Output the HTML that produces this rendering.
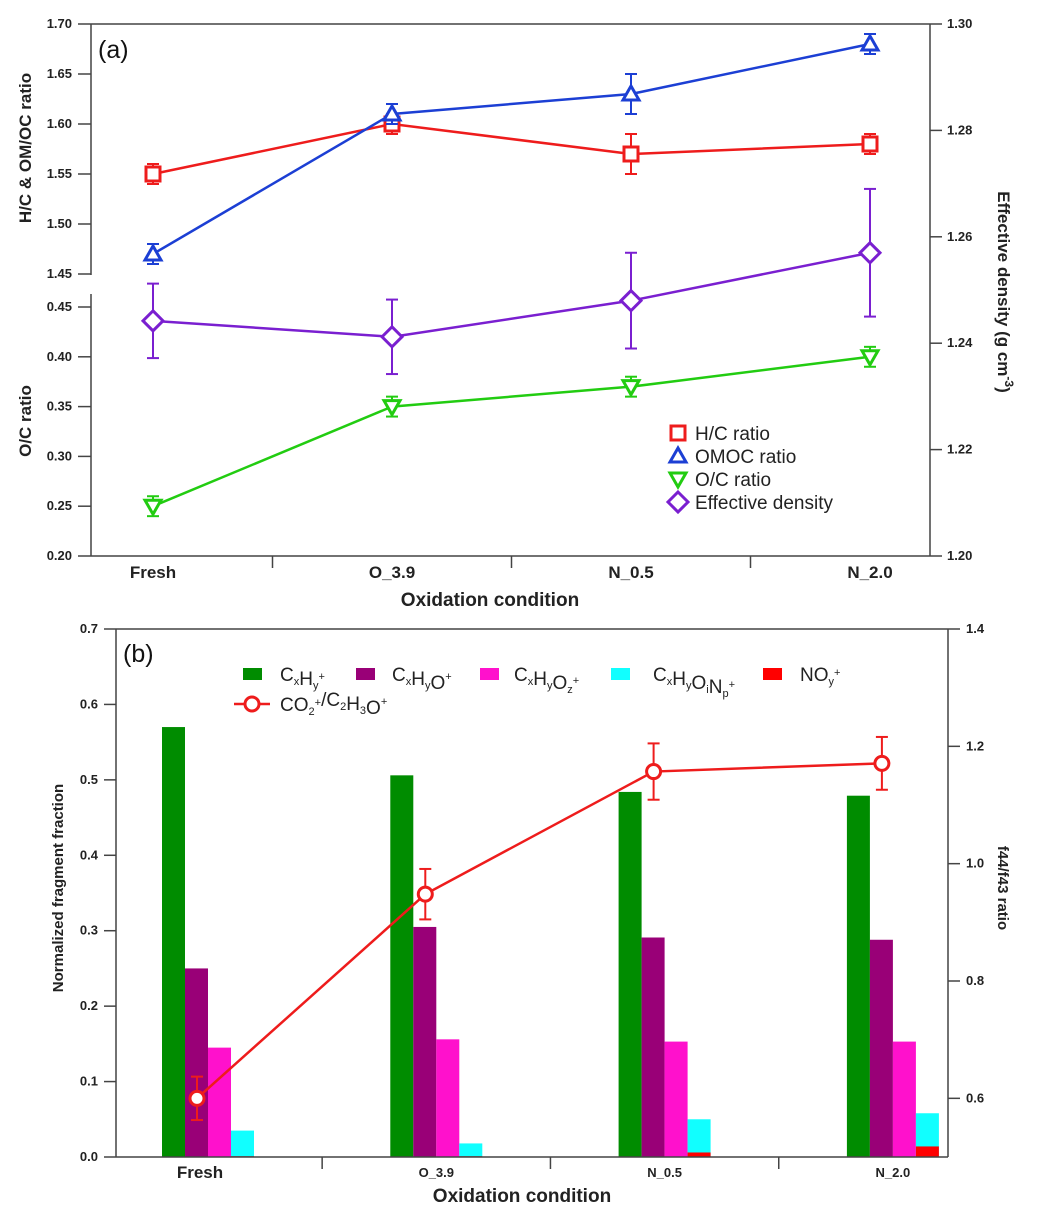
<!DOCTYPE html>
<html><head><meta charset="utf-8"><style>
body{margin:0;background:#fff;}
svg{display:block;font-family:"Liberation Sans",Arial,sans-serif;}
.tk{font-size:13px;font-weight:bold;fill:#222;}
</style></head><body>
<svg id="chart" width="1052" height="1224" viewBox="0 0 1052 1224" xmlns="http://www.w3.org/2000/svg"></svg>
<script>
// ---------- Panel (a) data ----------
const catsA = ["Fresh","O_3.9","N_0.5","N_2.0"];
const hcVals = [1.55,1.60,1.57,1.58];
const hcErr = [0.01,0.01,0.02,0.01];
const omocVals = [1.47,1.61,1.63,1.68];
const omocErr = [0.01,0.01,0.02,0.01];
const ocVals = [0.25,0.35,0.37,0.40];
const ocErr = [0.01,0.01,0.01,0.01];
const densVals = [1.2442,1.2412,1.2480,1.2570];
const densErr = [0.007,0.007,0.009,0.012];
const upperTicks = [1.45,1.50,1.55,1.60,1.65,1.70];
const lowerTicks = [0.20,0.25,0.30,0.35,0.40,0.45];
const densTicks = [1.20,1.22,1.24,1.26,1.28,1.30];
// ---------- Panel (b) data ----------
const catsB = ["Fresh","O_3.9","N_0.5","N_2.0"];
const cxhy = [0.570,0.506,0.484,0.479];
const cxhyo = [0.250,0.305,0.291,0.288];
const cxhyoz = [0.145,0.156,0.153,0.153];
const cxhyoin = [0.035,0.018,0.050,0.058];
const noy = [0.001,0.001,0.006,0.014];
const ratioVals = [0.600,0.948,1.157,1.171];
const ratioErr = [0.037,0.043,0.048,0.045];
const leftTicksB = [0.0,0.1,0.2,0.3,0.4,0.5,0.6,0.7];
const rightTicksB = [0.6,0.8,1.0,1.2,1.4];

const svg = document.getElementById('chart');
const NS = "http://www.w3.org/2000/svg";
function el(tag, attrs, parent){
  const e = document.createElementNS(NS, tag);
  for (const k in attrs) e.setAttribute(k, attrs[k]);
  (parent||svg).appendChild(e);
  return e;
}
function txt(s, x, y, attrs, parent){
  const t = el('text', Object.assign({x:x,y:y}, attrs||{}), parent);
  t.innerHTML = s;
  return t;
}

// ===== Panel (a) =====
const gA = el('g', {});


const aL=91, aR=930, aT=24, aB=556;
const xA = i => 153 + i*239;
const yUp = v => 24 + (1.70 - v) * (250/0.25);
const yLo = v => 307 + (0.45 - v) * (249/0.25);
const yD = v => 556 - (v - 1.20) * (532/0.10);

el('line',{x1:aL,y1:aT,x2:aR,y2:aT,stroke:'#444','stroke-width':1.5},gA);
el('line',{x1:aL,y1:aB,x2:aR,y2:aB,stroke:'#444','stroke-width':1.5},gA);
el('line',{x1:aL,y1:aT,x2:aL,y2:275,stroke:'#444','stroke-width':1.5},gA);
el('line',{x1:aL,y1:294,x2:aL,y2:aB,stroke:'#444','stroke-width':1.5},gA);
el('line',{x1:aR,y1:aT,x2:aR,y2:aB,stroke:'#444','stroke-width':1.5},gA);
upperTicks.forEach(v=>{
  el('line',{x1:78,y1:yUp(v),x2:aL,y2:yUp(v),stroke:'#444','stroke-width':1.5},gA);
  const t = txt(v.toFixed(2),72,yUp(v)+4,{'text-anchor':'end','class':'tk'},gA);
  
  
});
lowerTicks.forEach(v=>{
  el('line',{x1:78,y1:yLo(v),x2:aL,y2:yLo(v),stroke:'#444','stroke-width':1.5},gA);
  const t = txt(v.toFixed(2),72,yLo(v)+4,{'text-anchor':'end','class':'tk'},gA);
  
  
});
densTicks.forEach(v=>{
  el('line',{x1:aR,y1:yD(v),x2:aR+12,y2:yD(v),stroke:'#444','stroke-width':1.5},gA);
  const t = txt(v.toFixed(2),947,yD(v)+4,{'class':'tk'},gA);
  
  
});
[0,1,2].forEach(i=>{
  const x = (xA(i)+xA(i+1))/2;
  el('line',{x1:x,y1:aB,x2:x,y2:aB+12,stroke:'#444','stroke-width':1.5},gA);
});
catsA.forEach((c,i)=>{
  const t = txt(c,xA(i),578,{'text-anchor':'middle','font-size':'17','font-weight':'bold',fill:'#222'},gA);
  
  
});
let t1 = txt('Oxidation condition',490,606,{'text-anchor':'middle','font-size':'19','font-weight':'bold',fill:'#222'},gA);


t1 = txt('H/C &amp; OM/OC ratio',0,0,{'text-anchor':'middle','font-size':'17','font-weight':'bold',fill:'#222',transform:'translate(31,148) rotate(-90)'},gA);


t1 = txt('O/C ratio',0,0,{'text-anchor':'middle','font-size':'17','font-weight':'bold',fill:'#222',transform:'translate(31,421) rotate(-90)'},gA);


t1 = txt('Effective density (g cm<tspan dy="-7" font-size="12">-3</tspan><tspan dy="7">)</tspan>',0,0,{'text-anchor':'middle','font-size':'17','font-weight':'bold',fill:'#222',transform:'translate(998,292) rotate(90)'},gA);


t1 = txt('(a)',98,58,{'font-size':'25',fill:'#111'},gA);



function marker(shape,x,y,color,g){
  const s=7;
  if(shape==='sq') return el('rect',{x:x-s,y:y-s,width:2*s,height:2*s,fill:'#fff',stroke:color,'stroke-width':3},g);
  if(shape==='up') return el('polygon',{points:`${x},${y-s-1} ${x+s+1},${y+s-1} ${x-s-1},${y+s-1}`,fill:'#fff',stroke:color,'stroke-width':3},g);
  if(shape==='dn') return el('polygon',{points:`${x},${y+s+1} ${x+s+1},${y-s+1} ${x-s-1},${y-s+1}`,fill:'#fff',stroke:color,'stroke-width':3},g);
  if(shape==='di') return el('polygon',{points:`${x},${y-10} ${x+10},${y} ${x},${y+10} ${x-10},${y}`,fill:'#fff',stroke:color,'stroke-width':3},g);
  if(shape==='ci') return el('circle',{cx:x,cy:y,r:7,fill:'#fff',stroke:color,'stroke-width':3},g);
}
function series(name,vals,errs,yf,color,shape,xf,g,dx){
  const sg = el('g',{},g);
  
  
  const pts = vals.map((v,i)=>[xf(i)+(dx||0),yf(v)]);
  el('polyline',{points:pts.map(p=>p.join(',')).join(' '),fill:'none',stroke:color,'stroke-width':2.5},sg);
  vals.forEach((v,i)=>{
    const x=pts[i][0], y1=yf(v+errs[i]), y2=yf(v-errs[i]);
    el('line',{x1:x,y1:y1,x2:x,y2:y2,stroke:color,'stroke-width':2},sg);
    el('line',{x1:x-6,y1:y1,x2:x+6,y2:y1,stroke:color,'stroke-width':2},sg);
    el('line',{x1:x-6,y1:y2,x2:x+6,y2:y2,stroke:color,'stroke-width':2},sg);
  });
  vals.forEach((v,i)=>{
    const m = marker(shape,pts[i][0],pts[i][1],color,sg);
    
    
  });
}
series('hc-ratio-series',hcVals,hcErr,yUp,'#ee1c1c','sq',xA,gA);
series('omoc-ratio-series',omocVals,omocErr,yUp,'#1c3fd4','up',xA,gA);
series('density-series',densVals,densErr,yD,'#7a1fd0','di',xA,gA);
series('oc-ratio-series',ocVals,ocErr,yLo,'#22cc11','dn',xA,gA);

const legA = el('g',{},gA);


[['H/C ratio','#ee1c1c','sq',433],['OMOC ratio','#1c3fd4','up',456],['O/C ratio','#22cc11','dn',479],['Effective density','#7a1fd0','di',502]].forEach(r=>{
  const eg = el('g',{},legA);
  
  
  marker(r[2],678,r[3],r[1],eg);
  txt(r[0],695,r[3]+7,{'font-size':'19',fill:'#222'},eg);
});

// ===== Panel (b) =====
const gB = el('g',{});


const bL=116,bR=948,bT=629,bB=1157;
const xB = i => 208 + i*228.3;
const yB = v => bB - v*((bB-bT)/0.7);
const yR = v => bB - (v-0.5)*((bB-bT)/0.9);
const barW = 23;
const slot = [0,1,2,3,3];
const barSeries = [['cxhy',cxhy,'#008c00'],['cxhyo',cxhyo,'#990077'],['cxhyoz',cxhyoz,'#ff11cc'],['cxhyoinp',cxhyoin,'#11ffff'],['noy',noy,'#ff0000']];
barSeries.forEach((s,k)=>{
  s[1].forEach((v,i)=>{
    const r = el('rect',{x:xB(i)-46+slot[k]*barW,y:yB(v),width:barW,height:bB-yB(v),fill:s[2]},gB);
    
    
  });
});
el('line',{x1:bL,y1:bT,x2:bR,y2:bT,stroke:'#444','stroke-width':1.5},gB);
el('line',{x1:bL,y1:bB,x2:bR,y2:bB,stroke:'#444','stroke-width':1.5},gB);
el('line',{x1:bL,y1:bT,x2:bL,y2:bB,stroke:'#444','stroke-width':1.5},gB);
el('line',{x1:bR,y1:bT,x2:bR,y2:bB,stroke:'#444','stroke-width':1.5},gB);
leftTicksB.forEach(v=>{
  el('line',{x1:bL-12,y1:yB(v),x2:bL,y2:yB(v),stroke:'#444','stroke-width':1.5},gB);
  const t = txt(v.toFixed(1),98,yB(v)+4,{'text-anchor':'end','class':'tk'},gB);
  
  
});
rightTicksB.forEach(v=>{
  el('line',{x1:bR,y1:yR(v),x2:bR+12,y2:yR(v),stroke:'#444','stroke-width':1.5},gB);
  const t = txt(v.toFixed(1),966,yR(v)+4,{'class':'tk'},gB);
  
  
});
[0,1,2].forEach(i=>{
  const x=(xB(i)+xB(i+1))/2;
  el('line',{x1:x,y1:bB,x2:x,y2:bB+12,stroke:'#444','stroke-width':1.5},gB);
});
catsB.forEach((c,i)=>{
  const t = i===0 ? txt(c,xB(i)-8,1178,{'text-anchor':'middle','font-size':'17','font-weight':'bold',fill:'#222'},gB)
                  : txt(c,xB(i),1177,{'text-anchor':'middle','font-size':'13','font-weight':'bold',fill:'#222'},gB);
  
  
});
t1 = txt('Oxidation condition',522,1202,{'text-anchor':'middle','font-size':'19','font-weight':'bold',fill:'#222'},gB);


t1 = txt('Normalized fragment fraction',0,0,{'text-anchor':'middle','font-size':'15','font-weight':'bold',fill:'#222',transform:'translate(63,888) rotate(-90)'},gB);


t1 = txt('f44/f43 ratio',0,0,{'text-anchor':'middle','font-size':'15','font-weight':'bold',fill:'#222',transform:'translate(998,888) rotate(90)'},gB);


t1 = txt('(b)',123,662,{'font-size':'25',fill:'#111'},gB);



series('f44-f43-ratio-series',ratioVals,ratioErr,yR,'#ee1c1c','ci',xB,gB,-11);

const legB = el('g',{},gB);


const sub = s=>`<tspan font-size="11" dy="4">${s}</tspan><tspan dy="-4"></tspan>`;
const sup = s=>`<tspan font-size="11" dy="-9">${s}</tspan><tspan dy="9"></tspan>`;
[[243,280,'#008c00','C'+sub('x')+'H'+sub('y')+sup('+')],
 [356,392,'#990077','C'+sub('x')+'H'+sub('y')+'O'+sup('+')],
 [480,514,'#ff11cc','C'+sub('x')+'H'+sub('y')+'O'+sub('z')+sup('+')],
 [611,653,'#11ffff','C'+sub('x')+'H'+sub('y')+'O'+sub('i')+'N'+sub('p')+sup('+')],
 [763,800,'#ff0000','NO'+sub('y')+sup('+')]].forEach(r=>{
  const eg = el('g',{},legB);
  
  
  el('rect',{x:r[0],y:668,width:19,height:12,fill:r[2]},eg);
  txt(r[3],r[1],681,{'font-size':'19',fill:'#222'},eg);
});
const eg2 = el('g',{},legB);


el('line',{x1:234,y1:704,x2:270,y2:704,stroke:'#ee1c1c','stroke-width':2.5},eg2);
marker('ci',252,704,'#ee1c1c',eg2);
txt('CO'+sub('2')+sup('+')+'/C'+sub('2')+'H'+sub('3')+'O'+sup('+'),280,711,{'font-size':'19',fill:'#222'},eg2);
</script>
</body></html>
